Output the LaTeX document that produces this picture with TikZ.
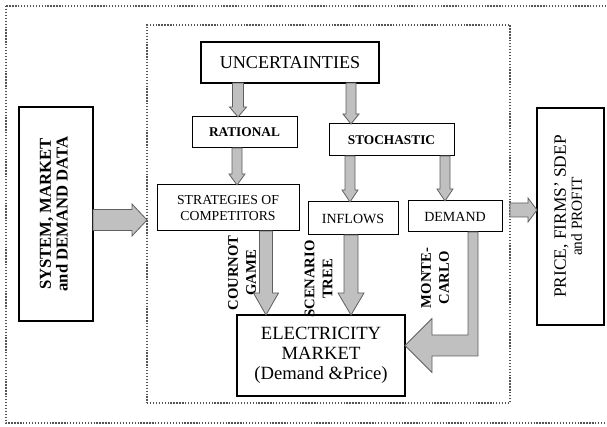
\documentclass[tikz,border=0pt]{standalone}
\usepackage{fontspec}
\setmainfont{Liberation Serif}
\usepackage{graphicx}
\usetikzlibrary{calc}

\definecolor{arrowfill}{RGB}{192,192,192}
\definecolor{arrowedge}{RGB}{95,95,95}
\definecolor{dotgray}{RGB}{85,85,85}

% block arrows: start, end, shaft half width, head half width, head length (px)
\newcommand{\fatdown}[5]{%
	\path (#2) coordinate (tip) (#1 -| tip) coordinate (tail);
	\draw[fatarrow] ($(tail)+(-#3,0)$) -- ($(tip)+(-#3,-#5)$) -- ($(tip)+(-#4,-#5)$) -- (tip)
		-- ($(tip)+(#4,-#5)$) -- ($(tip)+(#3,-#5)$) -- ($(tail)+(#3,0)$) -- cycle;}
\newcommand{\fatright}[5]{%
	\path (#1) coordinate (tail) (#2 |- tail) coordinate (tip);
	\draw[fatarrow] ($(tail)+(0,-#3)$) -- ($(tip)+(-#5,-#3)$) -- ($(tip)+(-#5,-#4)$) -- (tip)
		-- ($(tip)+(-#5,#4)$) -- ($(tip)+(-#5,#3)$) -- ($(tail)+(0,#3)$) -- cycle;}

\begin{document}
\begin{tikzpicture}[x=0.75pt, y=-0.75pt,
		box/.style={draw, rectangle, align=center, inner sep=1pt, outer sep=0pt, line width=0.75pt},
		thickbox/.style={box, line width=1.6pt},
		dotframe/.style={draw=dotgray, dash pattern=on 1pt off 1.2pt, line width=1pt, outer sep=0pt},
		fatarrow/.style={fill=arrowfill, draw=arrowedge, line width=0.6pt},
		sidelabel/.style={rotate=90, align=center, inner sep=0pt, font=\bfseries\fontsize{11}{13.5}\selectfont}]

	\useasboundingbox (0,0) rectangle (607,427);
	\clip (0,0) rectangle (607,427);

	% Frames
	\draw[dotframe] (6,6) rectangle (640,423);
	\node[dotframe, minimum width=272.25pt, minimum height=283.5pt] (model) at (328.5,214) {};

	% Input and output
	\node[thickbox, minimum width=55.5pt, minimum height=160.5pt, font=\bfseries\fontsize{12.5}{12.5}\selectfont] (sys) at (56,214)
		{\rotatebox{90}{\begin{tabular}{@{}c@{}}SYSTEM, MARKET\\and DEMAND DATA\end{tabular}}};
	\node[thickbox, minimum width=50.25pt, minimum height=162.75pt, font=\fontsize{13}{12}\selectfont] (price) at (570.5,216.5)
		{\rotatebox{90}{\begin{tabular}{@{}c@{}}PRICE, FIRMS' SDEP\\{\fontsize{11.5}{12}\selectfont and PROFIT}\end{tabular}}};

	% Uncertainties
	\node[thickbox, minimum width=133.5pt, minimum height=30.75pt, font=\fontsize{13.6}{15}\selectfont] (unc) at (290,62.5) {UNCERTAINTIES};
	\node[box, minimum width=78.75pt, minimum height=23.25pt, font=\bfseries\fontsize{10}{12}\selectfont] (rat) at (244.5,132.5) {RATIONAL};
	\node[box, minimum width=93.75pt, minimum height=24pt, font=\bfseries\fontsize{10}{12}\selectfont] (sto) at (391.5,140) {STOCHASTIC};

	% Sources
	\node[box, minimum width=106.5pt, minimum height=34.5pt, font=\fontsize{10.3}{11.5}\selectfont] (strat) at (228,208) {STRATEGIES OF\\COMPETITORS};
	\node[box, minimum width=67.5pt, minimum height=24.75pt, font=\fontsize{10.5}{12}\selectfont] (inf) at (353,218.5) {INFLOWS};
	\node[box, minimum width=70.5pt, minimum height=23.25pt, font=\fontsize{10.5}{12}\selectfont] (dem) at (455,216.5) {DEMAND};

	% Market
	\node[thickbox, minimum width=126pt, minimum height=60.75pt, font=\fontsize{14}{15}\selectfont] (elec) at (321,355.5)
		{ELECTRICITY\\MARKET\\(Demand \&Price)};

	% Methods
	\node[sidelabel] (cournot) at (242,273) {COURNOT\\GAME};
	\node[sidelabel] (scenario) at (318.5,279) {SCENARIO\\TREE};
	\node[sidelabel] (monte) at (435,278) {MONTE-\\CARLO};

	% Arrows
	\fatright{$(sys.east)+(0,6)$}{model.west}{10.5}{16}{15}
	\fatright{$(model.east)+(0,-4)$}{price.west}{7}{12}{9}
	\fatdown{unc.south}{$(rat.north)+(-6.5,0)$}{5.5}{8.5}{10}
	\fatdown{unc.south}{$(sto.north)+(-40.5,0)$}{5}{8}{10}
	\fatdown{rat.south}{$(strat.north)+(9,0)$}{5}{8}{11}
	\fatdown{sto.south}{$(inf.north)+(-3,0)$}{5}{8}{12}
	\fatdown{sto.south}{$(dem.north)+(-10,0)$}{5}{8}{12}
	\fatdown{strat.south}{$(elec.north)+(-55,0)$}{6.5}{12.5}{22}
	\fatdown{inf.south}{$(elec.north)+(30,0)$}{7}{13}{22}

	% Demand into market
	\coordinate (mc) at ($(dem.south)+(18,0)$);
	\coordinate (mctip) at ($(elec.east)+(0,-10)$);
	\draw[fatarrow] ($(mc)+(-5,0)$) -- ($(mc |- mctip)+(-5,-10.5)$) -- ($(mctip)+(27,-10.5)$) -- ($(mctip)+(27,-27)$) -- (mctip)
		-- ($(mctip)+(27,27)$) -- ($(mctip)+(27,10.5)$) -- ($(mc |- mctip)+(5,10.5)$) -- ($(mc)+(5,0)$) -- cycle;
\end{tikzpicture}
\end{document}
